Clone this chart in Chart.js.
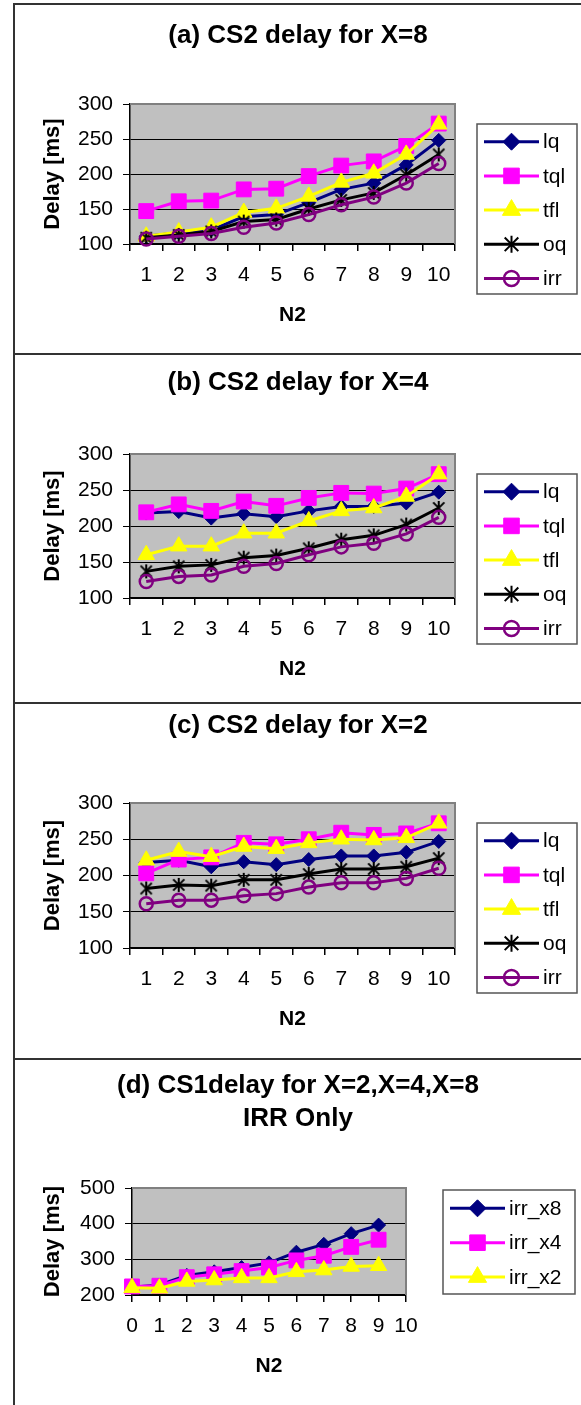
<!DOCTYPE html>
<html>
<head>
<meta charset="utf-8">
<script src="https://cdn.jsdelivr.net/npm/chart.js@4.4.1/dist/chart.umd.min.js"></script>
<style>
  body { margin: 0; background: #fff; width: 581px; height: 1405px; overflow: hidden; position: relative; }
  canvas { position: absolute; left: 0; }
  .ln { position: absolute; background: #333; z-index: 2; }
</style>
</head>
<body>
<div class="ln" style="left:13px;top:3px;width:2px;height:1402px"></div>
<div class="ln" style="left:13px;top:3px;width:568px;height:2px"></div>
<div class="ln" style="left:13px;top:353px;width:568px;height:2px"></div>
<div class="ln" style="left:13px;top:702px;width:568px;height:2px"></div>
<div class="ln" style="left:13px;top:1058px;width:568px;height:2px"></div>
<canvas id="pa"></canvas>
<canvas id="pb"></canvas>
<canvas id="pc"></canvas>
<canvas id="pd"></canvas>
<script>
// ---- data ----
var n2Labels = ['1', '2', '3', '4', '5', '6', '7', '8', '9', '10'];
var n2LabelsD = ['0', '1', '2', '3', '4', '5', '6', '7', '8', '9', '10'];
var seriesNames = ['lq', 'tql', 'tfl', 'oq', 'irr'];
var seriesNamesD = ['irr_x8', 'irr_x4', 'irr_x2'];
var yTicksCS2 = [100, 150, 200, 250, 300];
var yTicksCS1 = [200, 300, 400, 500];

// (a) X=8
var lqA  = [111, 116, 120, 139, 142, 159, 178, 187, 213, 248];
var tqlA = [147, 161, 162, 178, 179, 197, 212, 218, 240, 272];
var tflA = [111, 117, 124, 145, 151, 168, 188, 201, 228, 271];
var oqA  = [109, 113, 118, 132, 135, 150, 163, 173, 199, 228];
var irrA = [107, 111, 115, 124, 130, 142, 156, 167, 187, 215];

// (b) X=4
var lqB  = [218, 220, 211, 217, 213, 221, 227, 227, 232, 247];
var tqlB = [219, 230, 221, 234, 228, 239, 246, 245, 252, 272];
var tflB = [160, 172, 172, 190, 190, 207, 221, 225, 241, 272];
var oqB  = [137, 144, 146, 156, 159, 169, 181, 187, 202, 225];
var irrB = [123, 130, 132, 144, 148, 160, 171, 176, 189, 212];

// (c) X=2
var lqC  = [218, 221, 212, 219, 215, 222, 227, 227, 232, 247];
var tqlC = [203, 222, 225, 245, 243, 250, 259, 256, 258, 272];
var tflC = [221, 233, 226, 240, 237, 245, 250, 249, 252, 272];
var oqC  = [182, 187, 186, 194, 194, 202, 209, 209, 212, 224];
var irrC = [161, 166, 166, 172, 175, 184, 190, 190, 196, 210];

// (d) CS1, irr only
var irrX8 = [222, 228, 255, 265, 277, 290, 320, 342, 372, 396];
var irrX4 = [224, 226, 250, 258, 267, 277, 297, 310, 335, 355];
var irrX2 = [220, 219, 238, 242, 248, 248, 265, 270, 280, 282];

var FONT = '"Liberation Sans", Arial, sans-serif';
var W = 581;
var LW = 3;

var looks = [
  { color: '#000080', style: 'rectRot', r: 7, lr: 8.5, fill: '#000080' },
  { color: '#ff00ff', style: 'rect', r: 10.5, lr: 11, fill: '#ff00ff' },
  { color: '#ffff00', style: 'triangle', r: 9.5, lr: 10.5, fill: '#ffff00' },
  { color: '#000000', style: 'star6', r: 7, lr: 8.5, fill: null },
  { color: '#800080', style: 'circle', r: 6.5, lr: 7.5, fill: null }
];

function asteriskImg(r, lw) {
  var c = document.createElement('canvas');
  var s = Math.ceil(2 * r + 2 * lw);
  c.width = s; c.height = s;
  var g = c.getContext('2d');
  var m = s / 2, d = r * 0.8;
  g.strokeStyle = '#000'; g.lineWidth = lw;
  g.beginPath();
  g.moveTo(m, m - r); g.lineTo(m, m + r);
  g.moveTo(m - d, m - d); g.lineTo(m + d, m + d);
  g.moveTo(m + d, m - d); g.lineTo(m - d, m + d);
  g.stroke();
  return c;
}

function mark(ctx, lk, x, y, r) {
  ctx.save();
  ctx.fillStyle = lk.fill || 'rgba(0,0,0,0)';
  ctx.strokeStyle = lk.color;
  ctx.lineWidth = lk.fill ? 1 : 2.5;
  ctx.beginPath();
  if (lk.style == 'rectRot') {
    ctx.moveTo(x - r, y); ctx.lineTo(x, y - r); ctx.lineTo(x + r, y); ctx.lineTo(x, y + r); ctx.closePath();
  } else if (lk.style == 'rect') {
    var h = r * Math.SQRT1_2;
    ctx.rect(x - h, y - h, 2 * h, 2 * h);
  } else if (lk.style == 'triangle') {
    ctx.moveTo(x, y - r); ctx.lineTo(x + 0.866 * r, y + 0.5 * r); ctx.lineTo(x - 0.866 * r, y + 0.5 * r); ctx.closePath();
  } else if (lk.style == 'circle') {
    ctx.arc(x, y, r, 0, Math.PI * 2);
  } else {
    var d = r * 0.8;
    ctx.lineWidth = 2;
    ctx.moveTo(x, y - r); ctx.lineTo(x, y + r);
    ctx.moveTo(x - d, y - d); ctx.lineTo(x + d, y + d);
    ctx.moveTo(x + d, y - d); ctx.lineTo(x - d, y + d);
  }
  if (lk.fill) ctx.fill();
  ctx.stroke();
  ctx.restore();
}

// background, plot frame, titles and boxed legend
var deco = {
  id: 'deco',
  beforeDraw: function(chart) {
    var a = chart.chartArea, ctx = chart.ctx;
    ctx.save();
    ctx.fillStyle = '#c0c0c0';
    ctx.fillRect(a.left, a.top, a.right - a.left, a.bottom - a.top);
    ctx.restore();
  },
  beforeDatasetsDraw: function(chart) {
    var a = chart.chartArea, ctx = chart.ctx;
    ctx.save();
    ctx.strokeStyle = '#808080'; ctx.lineWidth = 2;
    ctx.beginPath();
    ctx.moveTo(a.left, a.top); ctx.lineTo(a.right, a.top); ctx.lineTo(a.right, a.bottom);
    ctx.stroke();
    ctx.restore();
  },
  afterDraw: function(chart) {
    var o = chart.config.options.deco, ctx = chart.ctx, a = chart.chartArea, top = o.top;
    ctx.save();
    ctx.fillStyle = '#000';
    ctx.textAlign = 'center';
    ctx.textBaseline = 'alphabetic';
    ctx.font = 'bold 26px ' + FONT;
    for (var i = 0; i < o.title.length; i++) {
      ctx.fillText(o.title[i], 298, o.titleBase[i] - top);
    }
    ctx.font = 'bold 21px ' + FONT;
    ctx.textBaseline = 'middle';
    ctx.fillText('N2', (a.left + a.right) / 2, a.bottom + 71);
    ctx.save();
    ctx.translate(53, (a.top + a.bottom) / 2);
    ctx.rotate(-Math.PI / 2);
    ctx.font = 'bold 22px ' + FONT;
    ctx.fillText('Delay [ms]', 0, 0);
    ctx.restore();

    var L = o.legend;
    ctx.strokeStyle = '#555'; ctx.lineWidth = 1.5;
    ctx.strokeRect(L.x1, L.y1 - top, L.x2 - L.x1, L.y2 - L.y1);
    ctx.font = '21px ' + FONT;
    ctx.textAlign = 'left';
    chart.data.datasets.forEach(function(ds, k) {
      var y = L.row0 + k * L.step - top;
      ctx.strokeStyle = ds.borderColor; ctx.lineWidth = LW;
      ctx.beginPath(); ctx.moveTo(L.lx1, y); ctx.lineTo(L.lx2, y); ctx.stroke();
      mark(ctx, ds.look, (L.lx1 + L.lx2) / 2, y, ds.look.lr);
      ctx.fillStyle = '#000';
      ctx.fillText(ds.label, L.tx, y + 1);
    });
    ctx.restore();
  }
};

function buildSets(names, rows) {
  return names.map(function(name, i) {
    var lk = looks[i];
    return {
      label: name,
      data: rows[i],
      borderColor: lk.color,
      borderWidth: LW,
      pointStyle: lk.style == 'star6' ? asteriskImg(lk.r, 2) : lk.style,
      pointRadius: lk.r,
      pointHoverRadius: lk.r,
      pointBackgroundColor: lk.fill || 'rgba(0,0,0,0)',
      pointBorderColor: lk.color,
      pointBorderWidth: lk.fill ? 1 : 2.5,
      tension: 0,
      clip: false,
      order: names.length - i,
      look: lk
    };
  });
}

function makeChart(id, pTop, pBottom, plot, labels, names, rows, yTicks, between, title, titleBase, legend) {
  var cv = document.getElementById(id);
  cv.width = W; cv.height = pBottom - pTop;
  cv.style.top = pTop + 'px';
  cv.style.width = W + 'px'; cv.style.height = (pBottom - pTop) + 'px';
  var YW = 60, XH = 60;
  var tickFont = { family: FONT, size: 21 };
  return new Chart(cv.getContext('2d'), {
    type: 'line',
    data: { labels: labels, datasets: buildSets(names, rows) },
    options: {
      responsive: false,
      animation: false,
      devicePixelRatio: 1,
      layout: { padding: { left: plot.l - YW, right: W - plot.r, top: plot.t - pTop, bottom: (pBottom - plot.b) - XH } },
      plugins: { legend: { display: false }, title: { display: false }, tooltip: { enabled: false } },
      deco: { top: pTop, title: title, titleBase: titleBase, legend: legend },
      scales: {
        x: {
          type: 'category',
          offset: between,
          grid: { offset: between, drawOnChartArea: false, drawTicks: true, tickLength: 7, color: '#000', lineWidth: 1.5 },
          border: { display: true, color: '#000', width: 1.5 },
          ticks: { font: tickFont, color: '#000', padding: 12, maxRotation: 0, autoSkip: false },
          afterFit: function(s) { s.height = XH; }
        },
        y: {
          min: yTicks[0],
          max: yTicks[yTicks.length - 1],
          ticks: { stepSize: yTicks[1] - yTicks[0], font: tickFont, color: '#000', padding: 10 },
          grid: { color: '#000', lineWidth: 1, tickLength: 7, drawTicks: true },
          border: { display: true, color: '#000', width: 1.5 },
          afterFit: function(s) { s.width = YW; }
        }
      }
    },
    plugins: [deco]
  });
}

makeChart('pa', 4, 354, { l: 130, r: 455, t: 104, b: 244 }, n2Labels, seriesNames,
  [lqA, tqlA, tflA, oqA, irrA], yTicksCS2, true,
  ['(a) CS2 delay for X=8'], [43],
  { x1: 477, y1: 124, x2: 577, y2: 294, lx1: 484, lx2: 539, tx: 543, row0: 141.7, step: 34.2 });

makeChart('pb', 354, 703, { l: 130, r: 455, t: 454, b: 598 }, n2Labels, seriesNames,
  [lqB, tqlB, tflB, oqB, irrB], yTicksCS2, true,
  ['(b) CS2 delay for X=4'], [390],
  { x1: 477, y1: 474, x2: 577, y2: 644, lx1: 484, lx2: 539, tx: 543, row0: 491.7, step: 34.2 });

makeChart('pc', 703, 1059, { l: 130, r: 455, t: 803, b: 948 }, n2Labels, seriesNames,
  [lqC, tqlC, tflC, oqC, irrC], yTicksCS2, true,
  ['(c) CS2 delay for X=2'], [733],
  { x1: 477, y1: 823, x2: 577, y2: 993, lx1: 484, lx2: 539, tx: 543, row0: 840.7, step: 34.2 });

makeChart('pd', 1059, 1405, { l: 132, r: 406, t: 1188, b: 1295 }, n2LabelsD, seriesNamesD,
  [irrX8, irrX4, irrX2], yTicksCS1, false,
  ['(d) CS1delay for X=2,X=4,X=8', 'IRR Only'], [1093, 1126],
  { x1: 443, y1: 1190, x2: 575, y2: 1294, lx1: 450, lx2: 505, tx: 509, row0: 1208.3, step: 34.4 });
</script>
</body>
</html>
